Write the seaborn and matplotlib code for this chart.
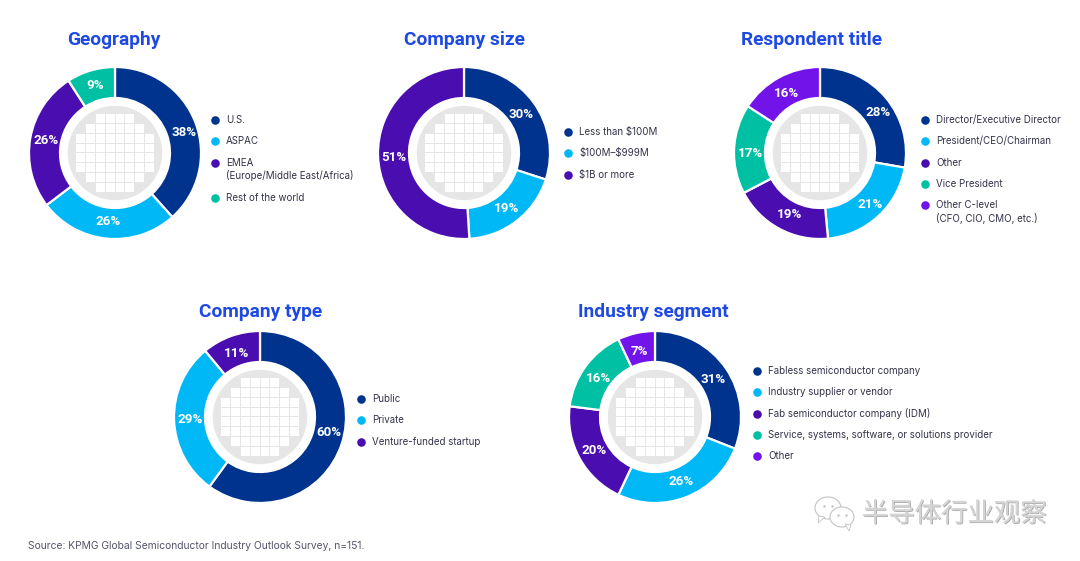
import numpy as np
import matplotlib
matplotlib.use("Agg")
import matplotlib.pyplot as plt
import matplotlib.patheffects as pe
from matplotlib.patches import Circle, Ellipse, Polygon
import seaborn as sns

#%% Data

geo_labels = ["U.S.", "ASPAC", "EMEA\n(Europe/Middle East/Africa)", "Rest of the world"]
geo_values = [38, 26, 26, 9]

size_labels = ["Less than \\$100M", "\\$100M\u2013\\$999M", "\\$1B or more"]
size_values = [30, 19, 51]

title_labels = ["Director/Executive Director", "President/CEO/Chairman", "Other", "Vice President",
                "Other C-level\n(CFO, CIO, CMO, etc.)"]
title_values = [28, 21, 19, 17, 16]

type_labels = ["Public", "Private", "Venture-funded startup"]
type_values = [60, 29, 11]

segment_labels = ["Fabless semiconductor company", "Industry supplier or vendor", "Fab semiconductor company (IDM)",
                  "Service, systems, software, or solutions provider", "Other"]
segment_values = [31, 26, 20, 16, 7]

# white dies per wafer row
wafer_rows = [4, 6, 8, 8, 8, 8, 6, 4]

#%% Style

sns.set_theme(style="white")
plt.rcParams["font.family"] = ["Inter", "DejaVu Sans"]

NAVY = "#00338D"
CYAN = "#00B8F5"
PURPLE = "#4A0DAF"
TEAL = "#00C0A3"
VIOLET = "#7213EA"
BLUE = "#1E49E2"
TEXT = "#33334a"

W, H = 1080, 561
R_OUT = 86
R_IN = 55
R_WAFER = 46.5
PITCH = 21.3
DIE = 9.8

fig = plt.figure(figsize=(W / 100, H / 100), dpi=100, facecolor="white")


def axes_px(cx, cy, half):
    # axes box from pixel centre and half size
    return fig.add_axes([(cx - half) / W, 1 - (cy + half) / H, 2 * half / W, 2 * half / H])


# overlay in pixel coordinates for titles, legends, source
over = fig.add_axes([0, 0, 1, 1], zorder=5)
over.set_xlim(0, W)
over.set_ylim(H, 0)
over.axis("off")

# wafer table for the heatmap
wafer = np.ones((8, 8))
wafer_mask = np.ones((8, 8), dtype=bool)
for i, n in enumerate(wafer_rows):
    wafer_mask[i, (8 - n) // 2:(8 - n) // 2 + n] = False


def donut(values, labels, colors, title, cx, cy, title_x, title_y, leg_x, leg_y, nudges):
    half = R_OUT + 4
    ax = axes_px(cx, cy, half)
    wedges, texts = ax.pie(values, colors=colors, startangle=90, counterclock=False, radius=1,
                           labels=[f"{v}%" for v in values], labeldistance=0.81,
                           wedgeprops=dict(width=(R_OUT - R_IN) / R_OUT, edgecolor="white", linewidth=1.6),
                           textprops=dict(color="white", fontsize=9.6, fontweight="bold", family="Roboto"))
    for t, (dx, dy) in zip(texts, nudges):
        x, y = t.get_position()
        t.set_position((x + dx / R_OUT, y - dy / R_OUT))
        t.set_ha("center")
        t.set_va("center")
    ax.set_xlim(-half / R_OUT, half / R_OUT)
    ax.set_ylim(-half / R_OUT, half / R_OUT)
    ax.add_patch(Circle((0, 0), R_WAFER / R_OUT, color="#e6e6e6", zorder=0))

    # wafer dies, clipped so masked cell edges do not show outside the disc
    wax = axes_px(cx - 0.5, cy - 0.5, 4 * DIE)
    sns.heatmap(wafer, mask=wafer_mask, cmap=["white"], cbar=False, square=True, linewidths=0.6,
                linecolor="#e6e6e6", xticklabels=False, yticklabels=False, ax=wax)
    wax.patch.set_alpha(0)
    wax.collections[0].set_clip_path(Circle((4, 4), R_WAFER / DIE, transform=wax.transData))

    over.text(title_x, title_y + 1.5, title, color=BLUE, fontsize=13.8, fontweight="bold", family="Roboto",
              va="center", ha="left")

    # legend, markers sit on the first line of each entry
    y = leg_y
    for lab, col in zip(labels, colors):
        over.scatter([leg_x], [y], s=38, color=col, linewidths=0)
        over.text(leg_x + 11, y, lab.split("\n")[0], color=TEXT, fontsize=7.0, va="center", ha="left")
        y += PITCH
        if "\n" in lab:
            over.text(leg_x + 11, y - 8, lab.split("\n")[1], color=TEXT, fontsize=7.0, va="center", ha="left")
            y += 14.5


donut(geo_values, geo_labels, [NAVY, CYAN, PURPLE, TEAL], "Geography", 115, 153, 67, 38, 215, 120,
      [(4, 4), (0, -1), (0, 0), (0, -1)])
donut(size_values, size_labels, [NAVY, CYAN, PURPLE], "Company size", 464, 153, 404, 38, 568, 132,
      [(1, 2), (0, 0), (0, 2)])
donut(title_values, title_labels, [NAVY, CYAN, PURPLE, TEAL, VIOLET], "Respondent title", 820, 153, 741, 38, 925, 120,
      [(5, 4), (3, 0), (3, 0), (0, 4), (0, 2)])
donut(type_values, type_labels, [NAVY, CYAN, PURPLE], "Company type", 260, 417, 199, 310, 361, 399,
      [(3, -6), (0, 0), (0, 2)])
donut(segment_values, segment_labels, [NAVY, CYAN, PURPLE, TEAL, VIOLET], "Industry segment", 655, 417, 578, 310, 757, 371,
      [(1, 2), (0, 0), (0, 0), (0, 2), (0, 2)])

over.text(28, 546, "Source: KPMG Global Semiconductor Industry Outlook Survey, n=151.", color="#55556a",
          fontsize=7.4, va="center", ha="left")

# watermark
wm = over.text(862, 514, "半导体行业观察", family=["Noto Sans CJK SC", "DejaVu Sans"], color="#d4d4d4", fontsize=19,
               va="center", ha="left")
wm.set_path_effects([pe.withSimplePatchShadow(offset=(0.6, -0.6), shadow_rgbFace="#808080", alpha=0.7), pe.Normal()])
for (x, y, a, b, tx) in [(828, 508, 13, 11, 822), (842, 517, 12, 10, 848)]:
    over.add_patch(Ellipse((x, y), 2 * a, 2 * b, facecolor="white", edgecolor="#c4c4c4", linewidth=0.8, zorder=3))
    over.add_patch(Polygon([(tx - 3, y + b - 3), (tx + 3, y + b - 2), (tx + (1 if tx > 830 else -4), y + b + 4)],
                           facecolor="white", edgecolor="#c4c4c4", linewidth=0.6, zorder=3))
    over.scatter([x - 4, x + 4], [y - 2, y - 2], s=3, color="#c0c0c0", linewidths=0, zorder=4)

fig.savefig("out.png", dpi=100)
